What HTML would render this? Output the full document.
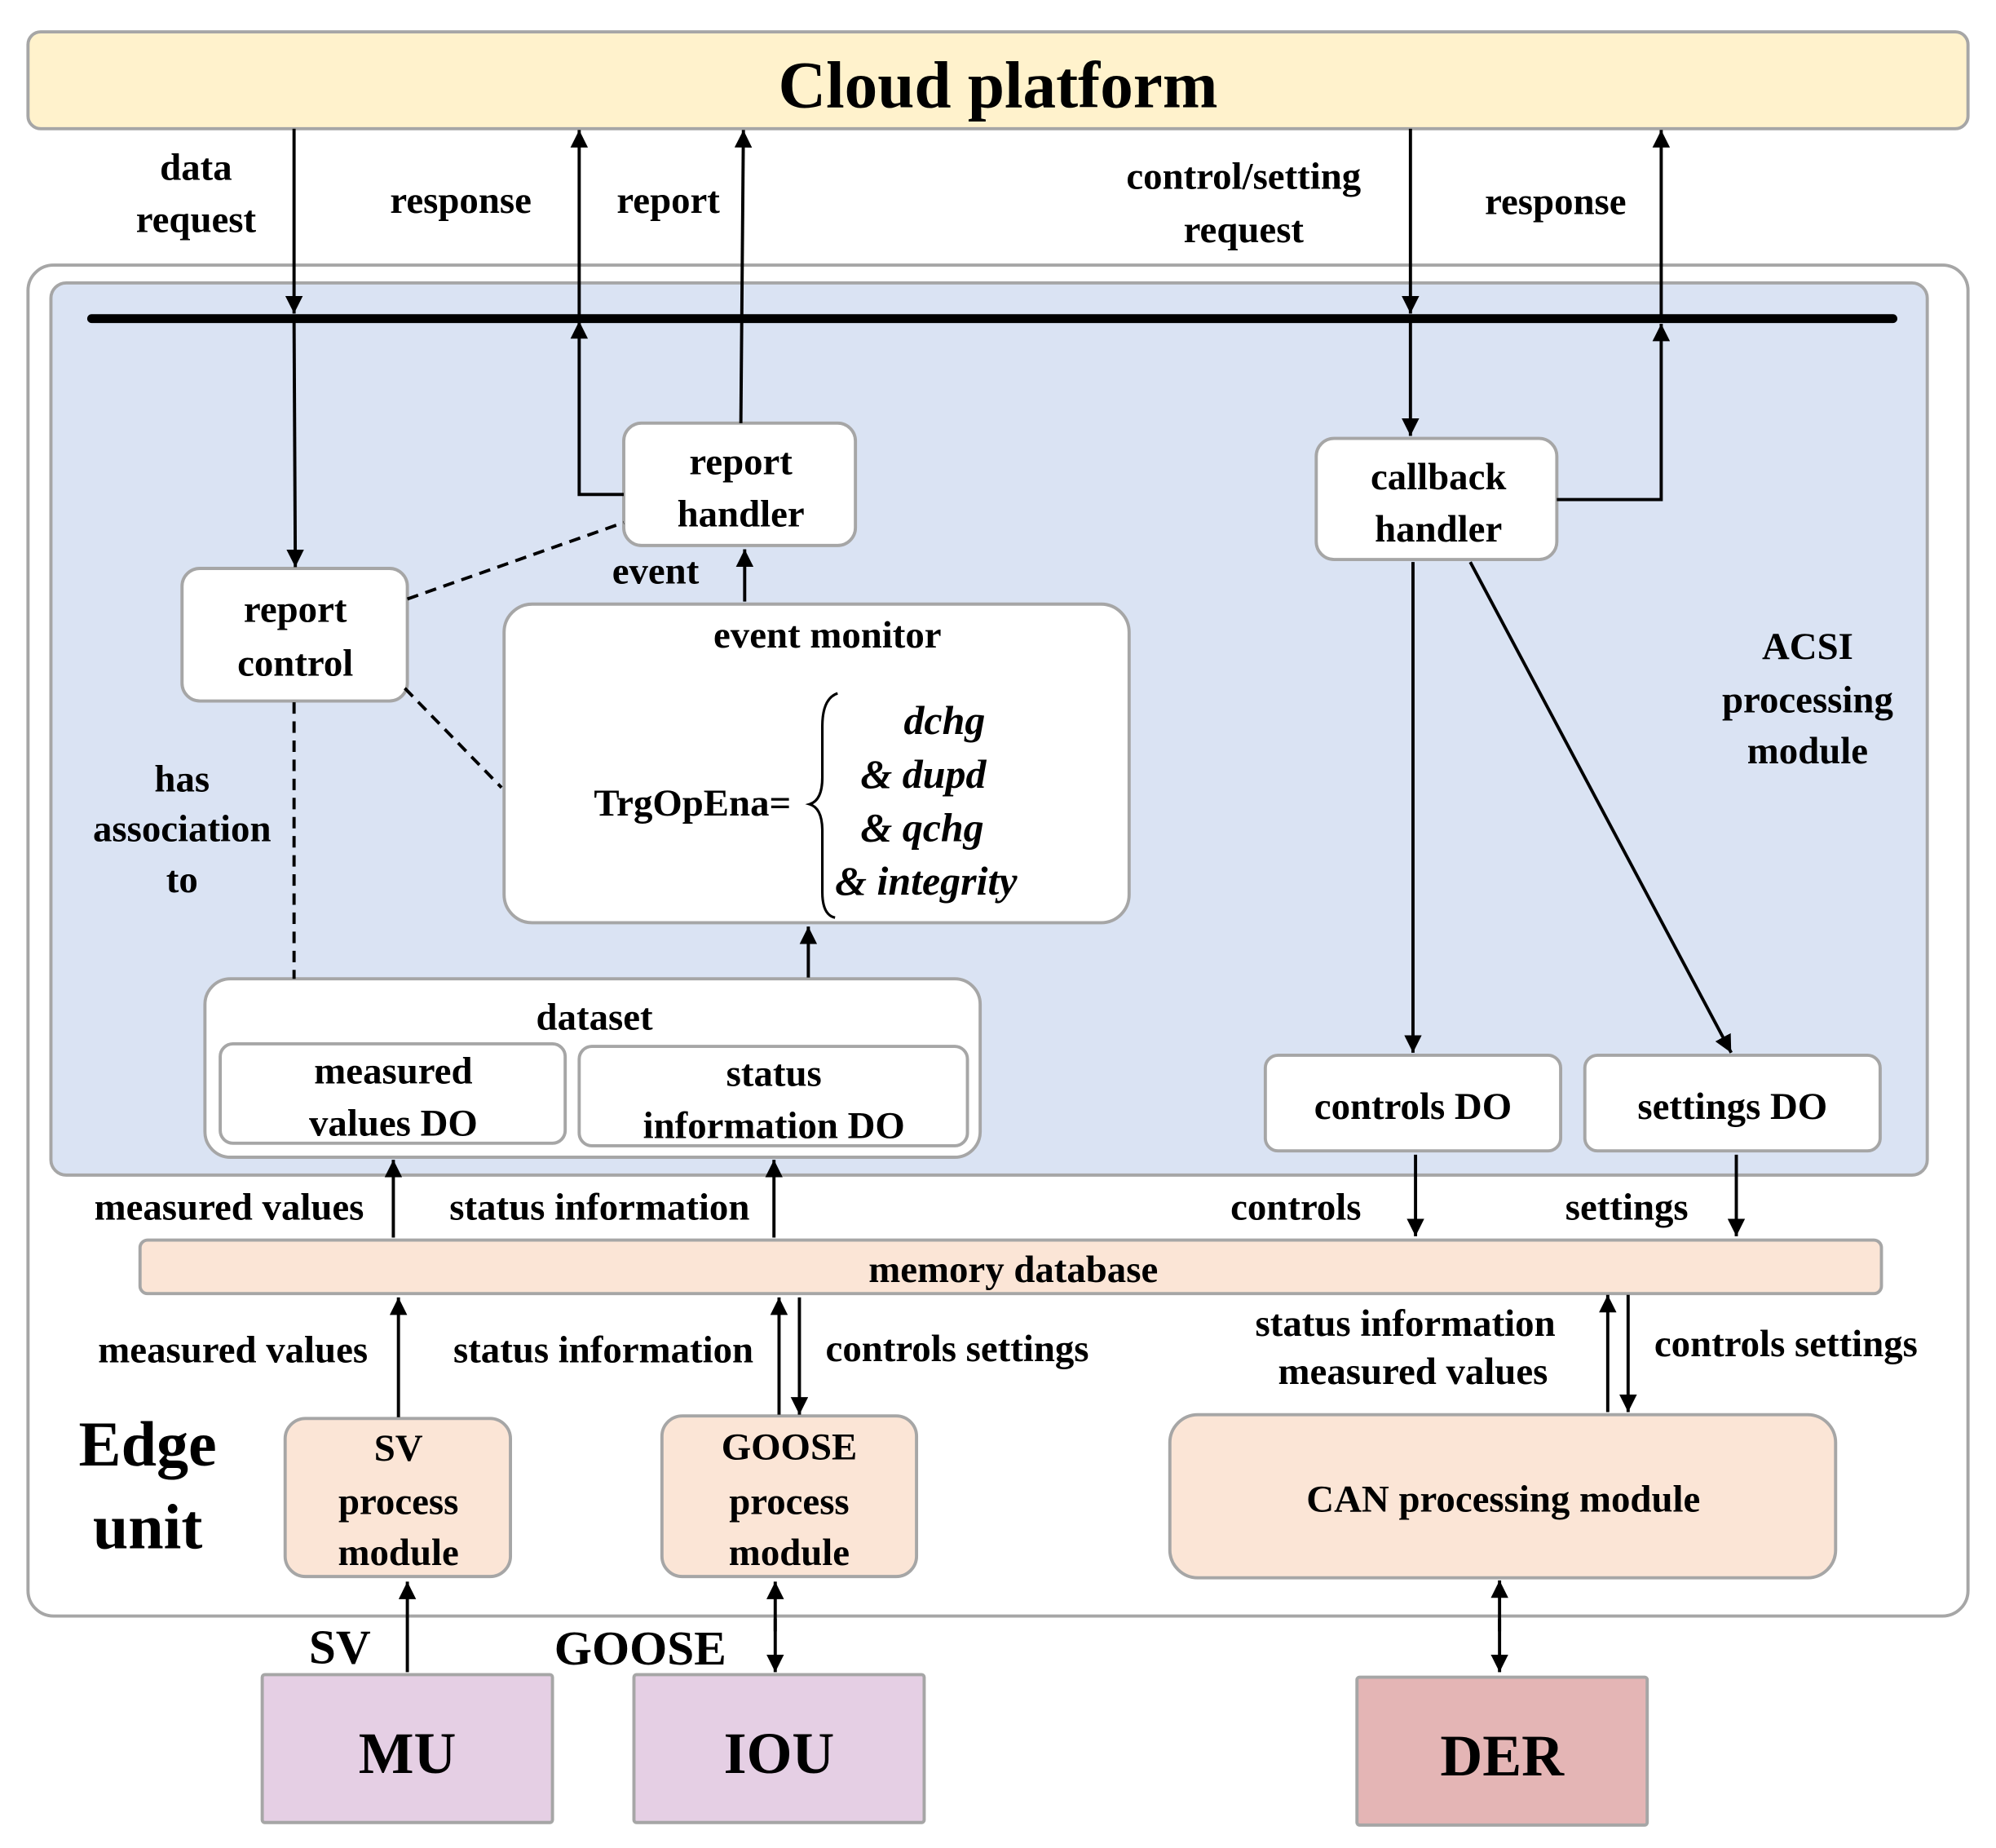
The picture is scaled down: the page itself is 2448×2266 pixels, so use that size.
<!DOCTYPE html>
<html><head><meta charset="utf-8"><style>html,body{margin:0;padding:0;background:#fff}svg{display:block}</style></head>
<body>
<svg width="2448" height="2266" viewBox="0 0 1568 1450" preserveAspectRatio="none" xmlns="http://www.w3.org/2000/svg" font-family="Liberation Serif, serif" font-weight="bold">
<defs>
<marker id="a" viewBox="0 0 10 10" refX="10" refY="5" markerWidth="5.5" markerHeight="5.5" orient="auto-start-reverse"><path d="M0,0L10,5L0,10z" fill="#000"/></marker>
</defs>
<g stroke="#a6a6a6" stroke-width="2.5">
<rect x="22" y="25" width="1524" height="76" rx="10" fill="#fff2cc"/>
<rect x="22" y="208" width="1524" height="1060" rx="20" fill="#fff"/>
<rect x="40" y="222" width="1474" height="700" rx="12" fill="#dae3f3"/>
<rect x="490" y="332" width="182" height="96" rx="14" fill="#fff"/>
<rect x="143" y="446" width="177" height="104" rx="14" fill="#fff"/>
<rect x="396" y="474" width="491" height="250" rx="22" fill="#fff"/>
<rect x="1034" y="344" width="189" height="95" rx="14" fill="#fff"/>
<rect x="161" y="768" width="609" height="140" rx="20" fill="#fff"/>
<rect x="173" y="819" width="271" height="78" rx="10" fill="#fff"/>
<rect x="455" y="821" width="305" height="78" rx="10" fill="#fff"/>
<rect x="994" y="828" width="232" height="75" rx="10" fill="#fff"/>
<rect x="1245" y="828" width="232" height="75" rx="10" fill="#fff"/>
<rect x="110" y="973" width="1368" height="42" rx="6" fill="#fbe5d6"/>
<rect x="224" y="1113" width="177" height="124" rx="16" fill="#fbe5d6"/>
<rect x="520" y="1111" width="200" height="126" rx="16" fill="#fbe5d6"/>
<rect x="919" y="1110" width="523" height="128" rx="22" fill="#fbe5d6"/>
<rect x="206" y="1314" width="228" height="116" rx="2" fill="#e5cfe4"/>
<rect x="498" y="1314" width="228" height="116" rx="2" fill="#e5cfe4"/>
<rect x="1066" y="1316" width="228" height="116" rx="2" fill="#e4b5b5"/>
</g>
<line x1="72" y1="250" x2="1487" y2="250" stroke="#000" stroke-width="7" stroke-linecap="round"/>
<g stroke="#000" stroke-width="2.5" fill="none" marker-end="url(#a)">
<line x1="231" y1="101" x2="231" y2="246"/>
<line x1="231" y1="252" x2="232" y2="445"/>
<path d="M490,388H455V252"/>
<line x1="455" y1="250" x2="455" y2="102"/>
<line x1="582" y1="332" x2="584" y2="102"/>
<line x1="1108" y1="101" x2="1108" y2="246"/>
<line x1="1108" y1="252" x2="1108" y2="342"/>
<path d="M1223,392H1305V254"/>
<line x1="1305" y1="250" x2="1305" y2="102"/>
<line x1="585" y1="472" x2="585" y2="431"/>
<line x1="635" y1="767" x2="635" y2="727"/>
<line x1="1110" y1="441" x2="1110" y2="826"/>
<line x1="1155" y1="441" x2="1360" y2="826"/>
<line x1="309" y1="971" x2="309" y2="910"/>
<line x1="608" y1="971" x2="608" y2="910"/>
<line x1="1112" y1="906" x2="1112" y2="970"/>
<line x1="1364" y1="906" x2="1364" y2="970"/>
<line x1="313" y1="1112" x2="313" y2="1018"/>
<line x1="612" y1="1110" x2="612" y2="1018"/>
<line x1="628" y1="1018" x2="628" y2="1110"/>
<line x1="1263" y1="1108" x2="1263" y2="1016"/>
<line x1="1279" y1="1016" x2="1279" y2="1108"/>
<line x1="320" y1="1312" x2="320" y2="1241"/>
<line x1="609" y1="1280" x2="609" y2="1241"/>
<line x1="609" y1="1270" x2="609" y2="1312"/>
<line x1="1178" y1="1280" x2="1178" y2="1240"/>
<line x1="1178" y1="1270" x2="1178" y2="1312"/>
</g>
<g stroke="#000" stroke-width="2.5" stroke-dasharray="9,6" fill="none">
<line x1="320" y1="470" x2="490" y2="410"/>
<line x1="318" y1="540" x2="394" y2="618"/>
<line x1="231" y1="551" x2="231" y2="768"/>
</g>
<path d="M658,544 Q646,548 646,570 L646,610 Q646,628 636,631 Q646,634 646,652 L646,700 Q646,718 656,720" stroke="#000" stroke-width="2" fill="none"/>
<g fill="#000" text-anchor="middle" font-size="30">
<text x="784" y="84" font-size="52">Cloud platform</text>
<text x="154" y="141">data</text><text x="154" y="182">request</text>
<text x="362" y="167">response</text>
<text x="525" y="167">report</text>
<text x="977" y="148">control/setting</text><text x="977" y="190">request</text>
<text x="1222" y="168">response</text>
<text x="582" y="372">report</text><text x="582" y="413">handler</text>
<text x="232" y="488">report</text><text x="232" y="530">control</text>
<text x="515" y="458">event</text>
<text x="650" y="508">event monitor</text>
<text x="544" y="640">TrgOpEna=</text>
<g font-style="italic" text-anchor="start" font-size="32">
<text x="710" y="576">dchg</text>
<text x="676" y="618">&amp; dupd</text>
<text x="676" y="660">&amp; qchg</text>
<text x="656" y="702">&amp; integrity</text>
</g>
<text x="1130" y="384">callback</text><text x="1130" y="425">handler</text>
<text x="1420" y="517">ACSI</text><text x="1420" y="559">processing</text><text x="1420" y="599">module</text>
<text x="143" y="621">has</text><text x="143" y="660">association</text><text x="143" y="700">to</text>
<text x="467" y="808">dataset</text>
<text x="309" y="850">measured</text><text x="309" y="891">values DO</text>
<text x="608" y="852">status</text><text x="608" y="893">information DO</text>
<text x="1110" y="878">controls DO</text>
<text x="1361" y="878">settings DO</text>
<text x="180" y="957">measured values</text>
<text x="471" y="957">status information</text>
<text x="1018" y="957">controls</text>
<text x="1278" y="957">settings</text>
<text x="796" y="1006">memory database</text>
<text x="183" y="1069">measured values</text>
<text x="474" y="1069">status information</text>
<text x="752" y="1068">controls settings</text>
<text x="1104" y="1048">status information</text>
<text x="1110" y="1086">measured values</text>
<text x="1403" y="1064">controls settings</text>
<text x="116" y="1150" font-size="50">Edge</text><text x="116" y="1215" font-size="50">unit</text>
<text x="313" y="1146">SV</text><text x="313" y="1188">process</text><text x="313" y="1228">module</text>
<text x="620" y="1145">GOOSE</text><text x="620" y="1188">process</text><text x="620" y="1228">module</text>
<text x="1181" y="1186">CAN processing module</text>
<text x="267" y="1305" font-size="38">SV</text>
<text x="503" y="1306" font-size="38">GOOSE</text>
<text x="320" y="1391" font-size="46">MU</text>
<text x="612" y="1391" font-size="46">IOU</text>
<text x="1180" y="1393" font-size="46">DER</text>
</g>
</svg>
</body></html>
